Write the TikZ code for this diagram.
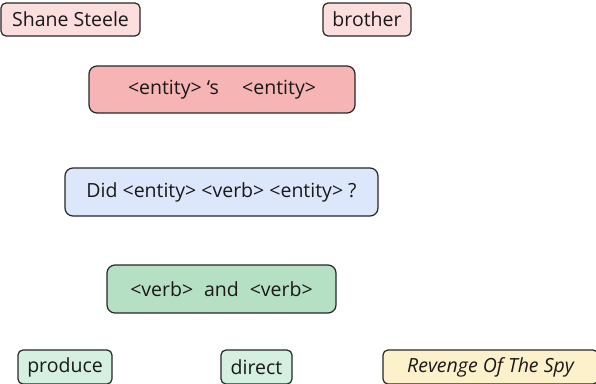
\documentclass[tikz,border=0pt]{standalone}
\usepackage{fontspec}
\setmainfont{Open Sans}
\definecolor{pinklt}{HTML}{FCDEDE}
\definecolor{pinkmd}{HTML}{F6B4B4}
\definecolor{bluelt}{HTML}{DCE7FB}
\definecolor{greenmd}{HTML}{B5E0C3}
\definecolor{greenlt}{HTML}{D5EFE0}
\definecolor{yellowlt}{HTML}{FDF1CC}
\begin{document}
\begin{tikzpicture}[x=1pt,y=-1pt,
  box/.style={draw=black!85, line width=1.2pt, rounded corners=5pt, inner sep=0pt, text=black!90, font=\fontsize{19.5}{22}\selectfont},
  big/.style={box, rounded corners=8pt}]
\useasboundingbox (0,0) rectangle (596,383);
\node[box, fill=pinklt, minimum width=139pt, minimum height=33pt] (shane) at (70.5,19.5) {Shane Steele};
\node[box, fill=pinklt, minimum width=88pt, minimum height=33pt] (brother) at (367,19.5) {brother};
\node[big, fill=pinkmd, minimum width=266pt, minimum height=47pt] (poss) at (222,89.5) {<entity> ‘s\hspace{1.2em}<entity>};
\node[big, fill=bluelt, minimum width=313pt, minimum height=48pt] (did) at (221.5,192) {Did <entity> <verb> <entity> ?};
\node[big, fill=greenmd, minimum width=229pt, minimum height=48pt] (and) at (221.5,289) {<verb>\hspace{0.3em} and \hspace{0.3em}<verb>};
\node[box, fill=greenlt, minimum width=94pt, minimum height=34pt] (produce) at (65,367) {produce};
\node[box, fill=greenlt, minimum width=71pt, minimum height=34pt] (direct) at (256.5,367) {direct};
\node[box, fill=yellowlt, minimum width=215pt, minimum height=34pt] (spy) at (490.5,367) {\itshape Revenge Of The Spy};
\end{tikzpicture}
\end{document}
